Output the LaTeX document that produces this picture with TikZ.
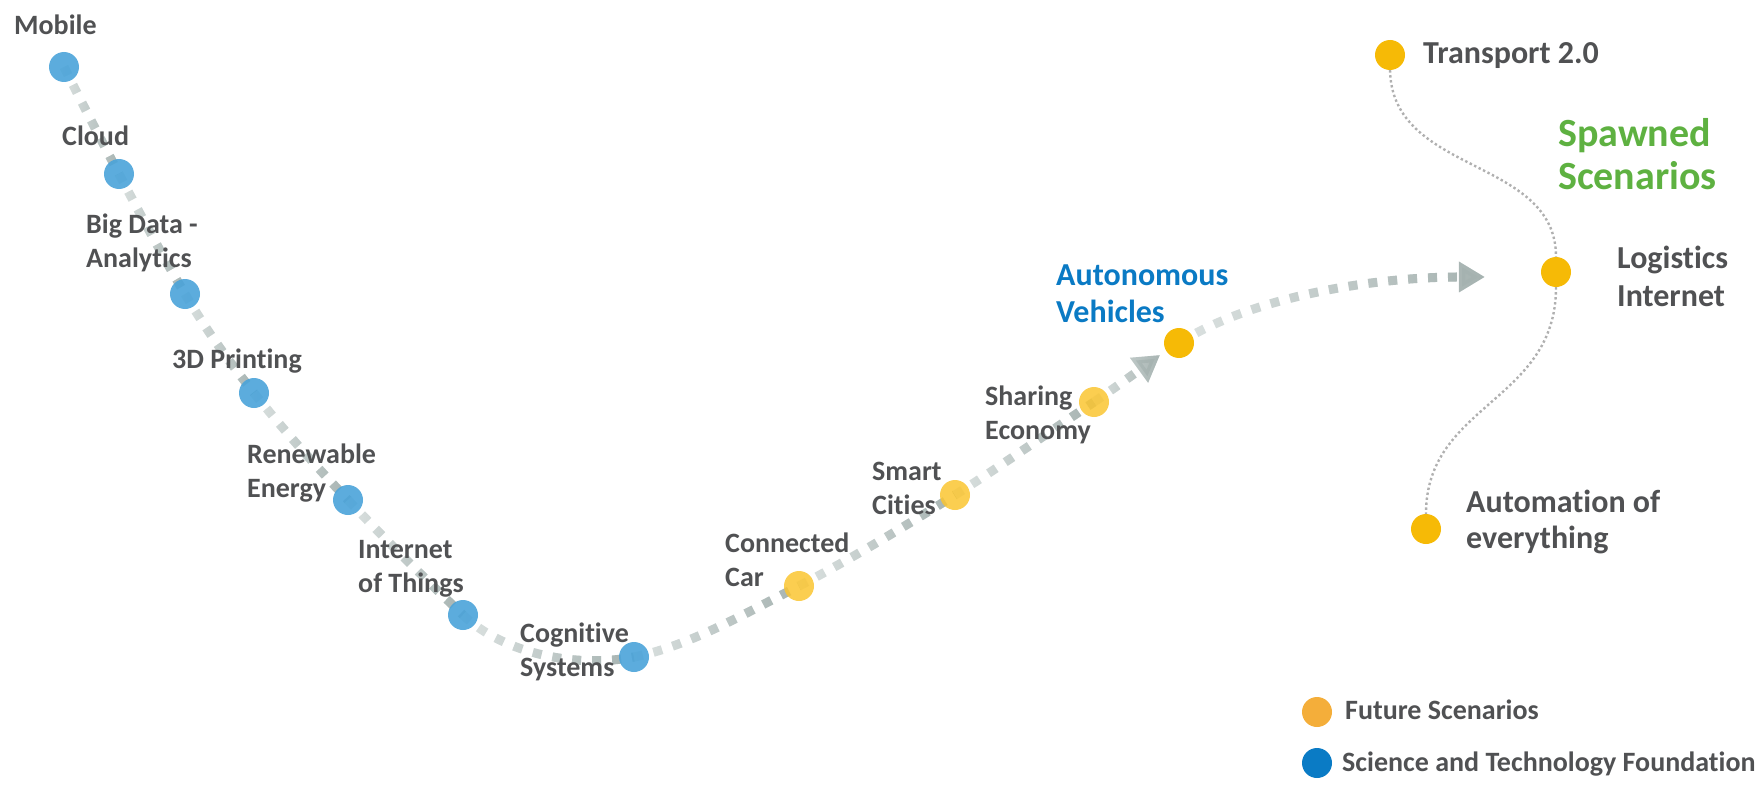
\documentclass[tikz,border=0pt]{standalone}
\usepackage{fontspec}
\setmainfont{Carlito}[Ligatures=NoCommon]
\usetikzlibrary{arrows.meta,fadings}
\definecolor{txt}{HTML}{505153}
\definecolor{dlight}{HTML}{DDE3E2}
\definecolor{ddark}{HTML}{A5B2B0}
\definecolor{nblue}{HTML}{4AA3D9}
\definecolor{nyel}{HTML}{FAC531}
\definecolor{nsolid}{HTML}{F6BA06}
\definecolor{avblue}{HTML}{0A7AC4}
\definecolor{sgreen}{HTML}{5EB141}
\definecolor{lorange}{HTML}{F4AE3A}
\definecolor{lblue}{HTML}{0A7BC5}
\definecolor{thinc}{HTML}{B0B0B0}
\begin{document}
\begin{tikzpicture}[x=1pt,y=-1pt,
  dashl/.style={line width=9pt, dash pattern=on 9pt off 11pt, draw=dlight},
  dashd/.style={line width=9pt, dash pattern=on 9pt off 11pt, draw=ddark, path fading=west},
  bigarrow/.style={-{Triangle[length=26pt,width=29pt]}},
  dot/.style={circle, inner sep=0pt, minimum size=30pt},
  bluedot/.style={dot, fill=nblue, fill opacity=0.9},
  yeldot/.style={dot, fill=nyel, fill opacity=0.85},
  soliddot/.style={dot, fill=nsolid},
  thinline/.style={draw=thinc, line width=2.4pt, dash pattern=on 2.4pt off 2.6pt},
  lbl/.style={font=\fontsize{28}{34}\selectfont\bfseries, text=txt, align=left, anchor=base west, inner sep=0pt},
  rlbl/.style={font=\fontsize{32}{37}\selectfont\bfseries, text=txt, align=left, anchor=base west, inner sep=0pt},
  glbl/.style={font=\fontsize{40}{43}\selectfont\bfseries, text=sgreen, align=left, anchor=base west, inner sep=0pt},
  leg/.style={font=\fontsize{28}{30}\selectfont\bfseries, text=txt, anchor=base west, inner sep=0pt}
]
\useasboundingbox (0,0) rectangle (1764,797);

% node positions
\coordinate (mob) at (64,67);
\coordinate (cloud) at (119,174);
\coordinate (big) at (185,294);
\coordinate (d3) at (254,393);
\coordinate (ren) at (348,500);
\coordinate (iot) at (463,615);
\coordinate (cog) at (634,657);
\coordinate (con) at (799,586);
\coordinate (smart) at (955,495);
\coordinate (share) at (1094,402);
\coordinate (av) at (1179,343);
\coordinate (avin) at (1160,355);
\coordinate (aend) at (1485,277);

% dashed path, light -> dark along each segment
\foreach \a/\b/\ca/\cb in {mob/cloud/{18,36}/{-20,-38}, cloud/big/{20,38}/{-22,-37}, big/d3/{22,37}/{-27,-34}, d3/ren/{27,34}/{-35,-37}, ren/iot/{35,37}/{-40,-38}, iot/cog/{42,40}/{-55,11}, cog/con/{55,-11}/{-55,28}, con/smart/{52,-27}/{-48,30}, smart/share/{46,-29}/{-45,30}}{
  \draw[dashl] (\a) .. controls +(\ca) and +(\cb) .. (\b);
  \draw[dashd] (\a) .. controls +(\ca) and +(\cb) .. (\b);
}
\draw[dashl, bigarrow] (share) .. controls +(22,-15) and +(-22,16) .. (avin);
\draw[dashd, bigarrow] (share) .. controls +(22,-15) and +(-22,16) .. (avin);
\draw[dashl, bigarrow] (av) .. controls +(71,-45) and +(-115,0) .. (aend);
\draw[dashd, bigarrow] (av) .. controls +(71,-45) and +(-115,0) .. (aend);

% circles
\node[bluedot] (nmob) at (mob) {};
\node[bluedot] (ncloud) at (cloud) {};
\node[bluedot] (nbig) at (big) {};
\node[bluedot] (nd3) at (d3) {};
\node[bluedot] (nren) at (ren) {};
\node[bluedot] (niot) at (iot) {};
\node[bluedot] (ncog) at (cog) {};
\node[yeldot] (ncon) at (con) {};
\node[yeldot] (nsmart) at (smart) {};
\node[yeldot] (nshare) at (share) {};
\node[soliddot] (nav) at (av) {};
\node[soliddot] (ntrans) at (1390,55) {};
\node[soliddot] (nlog) at (1556,272) {};
\node[soliddot] (nauto) at (1426,529) {};

% spawned connectors
\draw[thinline] (ntrans.south) .. controls +(2,105) and +(0,-100) .. (nlog.north);
\draw[thinline] (nlog.south) .. controls +(0,115) and +(0,-110) .. (nauto.north);

% labels (anchor = baseline of the last line)
\node[lbl] (tmob) at (14,35) {Mobile};
\node[lbl] (tcloud) at (62,146) {Cloud};
\node[lbl] (tbig) at (86,267) {Big Data -\\Analytics};
\node[lbl] (t3d) at (172,368) {3D Printing};
\node[lbl] (tren) at (247,497) {Renewable\\Energy};
\node[lbl] (tiot) at (358,592) {Internet\\of Things};
\node[lbl] (tcog) at (520,676) {Cognitive\\Systems};
\node[lbl] (tcon) at (725,586) {Connected\\Car};
\node[lbl] (tsmart) at (872,514) {Smart\\Cities};
\node[lbl] (tshare) at (985,439) {Sharing\\Economy};
\node[rlbl, text=avblue] (tav) at (1056,322) {Autonomous\\Vehicles};
\node[rlbl] (ttrans) at (1423,64) {Transport 2.0};
\node[glbl] (tspawn) at (1558,189) {Spawned\\Scenarios};
\node[rlbl, font=\fontsize{32}{38}\selectfont\bfseries] (tlog) at (1617,306) {Logistics\\Internet};
\node[rlbl, font=\fontsize{32}{36}\selectfont\bfseries] (tauto) at (1466,548) {Automation of\\everything};

% legend
\node[dot, fill=lorange] (lfut) at (1317,712) {};
\node[leg] (tfut) at (1345,719) {Future Scenarios};
\node[dot, fill=lblue] (lsci) at (1317,763) {};
\node[leg] (tsci) at (1342,771) {Science and Technology Foundation};
\end{tikzpicture}
\end{document}
